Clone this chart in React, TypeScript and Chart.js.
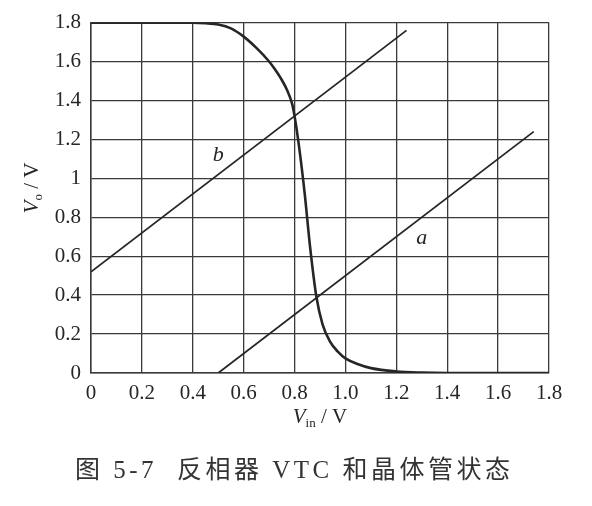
import React, { useEffect, useRef } from "react";
import { Chart, registerables } from "chart.js";

Chart.register(...registerables);

// ---- data ----
const vtcX = [0, 0.2, 0.4, 0.45, 0.5, 0.55, 0.6, 0.65, 0.7, 0.72, 0.75, 0.77, 0.79, 0.8, 0.82, 0.84, 0.86, 0.886, 0.91, 0.94, 0.97, 1.0, 1.05, 1.1, 1.2, 1.3, 1.4, 1.6, 1.8];
const vtcY = [1.8, 1.8, 1.8, 1.797, 1.79, 1.77, 1.728, 1.67, 1.6, 1.565, 1.505, 1.455, 1.385, 1.32, 1.14, 0.92, 0.66, 0.39, 0.25, 0.16, 0.11, 0.075, 0.045, 0.025, 0.008, 0.002, 0, 0, 0];
const lineBX = [0, 1.24];
const lineBY = [0.52, 1.76];
const lineAX = [0.5, 1.74];
const lineAY = [0, 1.24];
const xTickLabels = ["0", "0.2", "0.4", "0.6", "0.8", "1.0", "1.2", "1.4", "1.6", "1.8"];
const yTickLabels = ["0", "0.2", "0.4", "0.6", "0.8", "1", "1.2", "1.4", "1.6", "1.8"];
const curveLabels = [
  { text: "b", x: 0.5, y: 1.12 },
  { text: "a", x: 1.3, y: 0.69 },
];
const yTitle = { main: "V", sub: "o", rest: " / V" };
const xTitle = { main: "V", sub: "in", rest: " / V" };
const captionNumber = "图 5-7";
const captionText = "反相器 VTC 和晶体管状态";

const INK = "#262626";
const SERIF = "'Liberation Serif', 'DejaVu Serif', serif";
const CAP_FONT = "'Liberation Serif', 'Noto Sans CJK SC', serif";

const toPts = (xs: number[], ys: number[]) => xs.map((x, i) => ({ x, y: ys[i] }));

const annotPlugin = {
  id: "annot",
  afterDraw(chart: any) {
    const ctx = chart.ctx as CanvasRenderingContext2D;
    const xs = chart.scales.x;
    const ys = chart.scales.y;
    ctx.save();
    ctx.fillStyle = INK;
    // curve labels
    ctx.font = `italic 22px ${SERIF}`;
    ctx.textAlign = "center";
    ctx.textBaseline = "middle";
    for (const l of curveLabels) {
      ctx.fillText(l.text, xs.getPixelForValue(l.x), ys.getPixelForValue(l.y));
    }
    const drawTitle = (t: { main: string; sub: string; rest: string }) => {
      ctx.font = `italic 21px ${SERIF}`;
      const w1 = ctx.measureText(t.main).width;
      ctx.font = `13px ${SERIF}`;
      const w2 = ctx.measureText(t.sub).width;
      ctx.font = `21px ${SERIF}`;
      const w3 = ctx.measureText(t.rest).width;
      const total = w1 + w2 + w3;
      let cx = -total / 2;
      ctx.textAlign = "left";
      ctx.textBaseline = "alphabetic";
      ctx.font = `italic 21px ${SERIF}`;
      ctx.fillText(t.main, cx, 7);
      cx += w1;
      ctx.font = `13px ${SERIF}`;
      ctx.fillText(t.sub, cx, 11);
      cx += w2;
      ctx.font = `21px ${SERIF}`;
      ctx.fillText(t.rest, cx, 7);
    };
    // x title
    ctx.save();
    ctx.translate((xs.left + xs.right) / 2, 416);
    drawTitle(xTitle);
    ctx.restore();
    // y title
    ctx.save();
    ctx.translate(31, 188);
    ctx.rotate(-Math.PI / 2);
    drawTitle(yTitle);
    ctx.restore();
    // caption
    ctx.save();
    ctx.fillStyle = "#333";
    ctx.font = `25px ${CAP_FONT}`;
    ctx.textAlign = "left";
    ctx.textBaseline = "middle";
    (ctx as any).letterSpacing = "3.5px";
    ctx.fillText(captionNumber, 75, 471);
    ctx.fillText(captionText, 177, 471);
    ctx.restore();
    ctx.restore();
  },
};

export default function App() {
  const ref = useRef<HTMLCanvasElement | null>(null);
  useEffect(() => {
    if (!ref.current) return;
    const chart = new Chart(ref.current, {
      type: "line",
      data: {
        datasets: [
          {
            label: "VTC",
            data: toPts(vtcX, vtcY),
            borderColor: INK,
            borderWidth: 2.6,
            pointRadius: 0,
            cubicInterpolationMode: "monotone",
            fill: false,
          },
          {
            label: "b",
            data: toPts(lineBX, lineBY),
            borderColor: INK,
            borderWidth: 1.8,
            pointRadius: 0,
            fill: false,
          },
          {
            label: "a",
            data: toPts(lineAX, lineAY),
            borderColor: INK,
            borderWidth: 1.8,
            pointRadius: 0,
            fill: false,
          },
        ],
      },
      options: {
        animation: false,
        responsive: false,
        maintainAspectRatio: false,
        layout: { padding: { left: 0, top: 20, right: 43, bottom: 0 } },
        plugins: {
          legend: { display: false },
          tooltip: { enabled: false },
          title: { display: false },
        },
        scales: {
          x: {
            type: "linear",
            min: 0,
            max: 1.8,
            afterFit: (s: any) => {
              s.height = 133;
            },
            grid: { color: "#3a3a3a", lineWidth: 1.3, drawTicks: false },
            border: { color: "#3a3a3a", width: 1.5 },
            ticks: {
              stepSize: 0.2,
              padding: 8,
              color: INK,
              font: { family: SERIF, size: 21 },
              callback: (_v: any, i: number) => xTickLabels[i],
            },
          },
          y: {
            type: "linear",
            min: 0,
            max: 1.8,
            afterFit: (s: any) => {
              s.width = 91;
            },
            grid: { color: "#3a3a3a", lineWidth: 1.3, drawTicks: false },
            border: { color: "#3a3a3a", width: 1.5 },
            ticks: {
              stepSize: 0.2,
              padding: 10,
              color: INK,
              font: { family: SERIF, size: 21 },
              callback: (_v: any, i: number) => yTickLabels[i],
            },
          },
        },
      },
      plugins: [annotPlugin],
    });
    return () => chart.destroy();
  }, []);
  return (
    <div style={{ position: "fixed", left: 0, top: 0, width: 592, height: 506, background: "#fff" }}>
      <canvas ref={ref} width={592} height={506} style={{ display: "block", width: 592, height: 506 }} />
    </div>
  );
}
